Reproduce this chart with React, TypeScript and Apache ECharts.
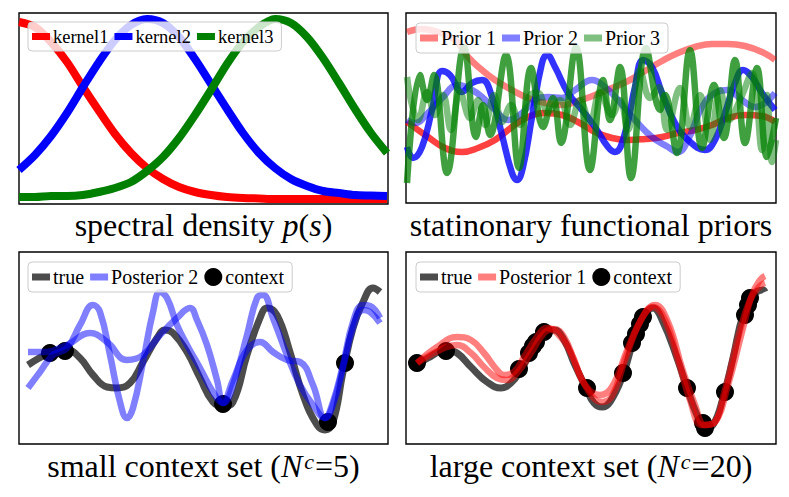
import { useEffect, useRef } from 'react';
import * as echarts from 'echarts';

// ---------- Panel 1: spectral densities (frequency vs density, arbitrary units) ----------
const kX = [0, 16, 32, 48, 64, 80, 96, 112, 128, 144, 160, 176, 192, 208, 224, 240, 256, 272, 288, 304, 320, 336, 352, 368];
const k1Y = [182, 177, 162, 142, 117, 93, 70, 51, 36, 25, 17, 12, 9, 7, 6, 5.5, 5, 5, 5, 5, 5, 5, 5, 5];
const k2Y = [34, 49, 68, 91, 117, 142, 164, 179, 185, 181, 167, 145, 120, 95, 71, 51, 36, 25, 18, 13, 11, 9, 8.5, 8];
const k3Y = [7, 7, 8, 8, 9, 12, 16, 22, 33, 47, 66, 89, 114, 140, 162, 177, 185, 181, 167, 146, 121, 95, 71, 51];

// ---------- Panel 2: prior samples ----------
const p1aX = [1, 16, 32, 49, 62, 76, 89, 106, 122, 139, 156, 172, 189, 206, 222, 239, 256, 272, 289, 306, 322, 339, 356, 369];
const p1aY = [171, 174, 171, 163, 146, 133, 123, 113, 105, 100, 98, 102, 108, 115, 122, 132, 142, 150, 156, 159, 159, 157, 151, 143];
const p1bX = [1, 22, 39, 56, 72, 89, 106, 122, 139, 156, 172, 189, 206, 222, 239, 256, 272, 289, 306, 322, 339, 356, 369];
const p1bY = [81, 66, 55, 51, 55, 63, 76, 86, 90, 88, 81, 71, 65, 63, 64, 66, 70, 73, 78, 85, 88, 87, 81];
const p2aX = [1, 9, 22, 36, 52, 66, 76, 89, 102, 116, 129, 142, 156, 169, 186, 199, 212, 229, 246, 262, 272, 282, 296, 309, 322, 336, 349, 359, 369];
const p2aY = [83, 80, 90, 105, 118, 113, 106, 93, 83, 90, 103, 106, 105, 113, 123, 116, 103, 83, 66, 56, 51, 63, 96, 110, 113, 103, 96, 100, 110];
const p2bX = [1, 7, 16, 26, 36, 44, 56, 66, 76, 86, 96, 106, 111, 117, 126, 136, 141, 149, 162, 176, 189, 202, 209, 219, 229, 237, 246, 256, 269, 282, 299, 309, 319, 329, 337, 346, 356, 369];
const p2bY = [56, 45, 56, 93, 132, 128, 111, 120, 123, 106, 68, 30, 23, 36, 86, 140, 148, 136, 110, 93, 76, 56, 51, 70, 116, 143, 136, 110, 80, 63, 53, 63, 90, 120, 133, 126, 110, 93];
const p3aX = [1, 6, 12, 21, 29, 37, 45, 54, 64, 72, 79, 88, 96, 105, 114, 124, 132, 142, 154, 164, 174, 184, 194, 206, 214, 222, 234, 244, 253, 261, 274, 284, 294, 304, 314, 323, 334, 346, 356, 361, 366, 370];
const p3aY = [126, 98, 83, 111, 88, 108, 73, 111, 85, 103, 78, 108, 81, 98, 78, 108, 110, 91, 103, 78, 103, 81, 111, 88, 103, 73, 133, 105, 116, 73, 115, 76, 108, 63, 113, 83, 103, 130, 53, 108, 41, 63];
const p3bX = [1, 14, 21, 28, 41, 58, 70, 77, 84, 100, 113, 125, 137, 147, 155, 170, 184, 197, 204, 214, 225, 240, 254, 259, 271, 284, 296, 308, 318, 329, 339, 351, 361, 370];
const p3bY = [20, 128, 103, 128, 30, 156, 66, 98, 68, 148, 35, 135, 76, 105, 60, 156, 33, 123, 83, 136, 25, 155, 93, 108, 50, 153, 55, 118, 65, 143, 60, 135, 46, 85];

// ---------- Panel 3: small context set ----------
const t3X = [9, 31, 48, 61, 74, 88, 98, 111, 124, 138, 146, 154, 168, 181, 194, 204, 214, 228, 241, 248, 258, 271, 284, 298, 306, 314, 324, 334, 344, 354, 361];
const t3Y = [79, 91, 94, 86, 69, 57, 56, 61, 82, 106, 114, 111, 92, 66, 42, 38, 42, 89, 126, 136, 129, 92, 49, 19, 14, 22, 72, 116, 142, 156, 152];
const q2aX = [9, 21, 34, 48, 61, 74, 81, 91, 101, 108, 114, 124, 134, 141, 148, 158, 168, 181, 194, 204, 214, 228, 238, 244, 254, 268, 281, 294, 306, 314, 324, 334, 344, 351, 361];
const q2aY = [56, 72, 89, 96, 119, 139, 132, 89, 42, 26, 36, 82, 132, 152, 146, 119, 99, 76, 52, 41, 59, 109, 146, 149, 126, 89, 59, 39, 26, 39, 76, 116, 134, 132, 121];
const q2bX = [9, 24, 48, 71, 88, 108, 124, 141, 158, 171, 178, 188, 198, 204, 214, 228, 241, 254, 268, 281, 294, 306, 314, 324, 334, 344, 351, 361];
const q2bY = [92, 92, 99, 111, 102, 84, 89, 109, 126, 136, 124, 99, 64, 41, 64, 94, 102, 92, 84, 82, 59, 26, 42, 79, 122, 139, 138, 126];
const c3X = [31, 46, 204, 309, 326];
const c3Y = [91, 93, 40, 22, 81];

// ---------- Panel 4: large context set ----------
const t4X = [11, 22, 40, 51, 65, 81, 95, 105, 115, 125, 138, 148, 158, 168, 180, 188, 196, 204, 217, 227, 237, 247, 257, 271, 281, 291, 299, 307, 317, 327, 337, 347, 357, 359];
const t4Y = [79, 86, 94, 91, 77, 62, 56, 61, 74, 92, 112, 114, 104, 81, 56, 41, 37, 42, 69, 102, 126, 136, 122, 86, 56, 29, 16, 19, 46, 86, 129, 149, 154, 152];
const q1aX = [11, 31, 51, 65, 78, 91, 98, 108, 118, 131, 141, 151, 165, 178, 194, 206, 222, 236, 249, 262, 276, 289, 299, 309, 322, 336, 346, 354, 359];
const q1aY = [81, 97, 107, 104, 91, 74, 69, 72, 87, 107, 116, 111, 91, 61, 49, 57, 96, 126, 139, 122, 76, 39, 19, 22, 59, 112, 149, 164, 168];
const q1bX = [11, 38, 51, 65, 78, 91, 101, 111, 125, 138, 148, 158, 168, 180, 196, 206, 219, 234, 247, 259, 272, 284, 296, 306, 319, 332, 344, 354, 359];
const q1bY = [81, 96, 99, 91, 77, 66, 64, 71, 91, 111, 115, 107, 84, 57, 42, 48, 84, 122, 137, 124, 84, 44, 19, 20, 54, 106, 144, 158, 161];
const c4X = [11, 40, 113, 123, 127, 130, 138, 181, 217, 226, 230, 234, 237, 281, 297, 299, 319, 339, 342, 344];
const c4Y = [81, 93, 75, 91, 98, 102, 112, 56, 71, 101, 110, 120, 127, 56, 21, 16, 52, 129, 139, 146];

// ---------- texts ----------
const titles = [
  'spectral density {i|p}({i|s})',
  'statinonary functional priors',
  'small context set ({i|N}{sup|c}=5)',
  'large context set ({i|N}{sup|c}=20)',
];
const legend1 = ['kernel1', 'kernel2', 'kernel3'];
const legend2 = ['Prior 1', 'Prior 2', 'Prior 3'];
const legend3 = ['true', 'Posterior 2', 'context'];
const legend4 = ['true', 'Posterior 1', 'context'];

// ---------- layout ----------
const panels = [
  { left: 19, top: 13, width: 369, height: 191 },
  { left: 406, top: 13, width: 370, height: 190 },
  { left: 19, top: 252, width: 369, height: 192 },
  { left: 406, top: 252, width: 370, height: 192 },
];
const titleY = [225, 225, 466, 466];
const legendPos = [
  { left: 28, top: 22 },
  { left: 416, top: 23 },
  { left: 28, top: 262 },
  { left: 416, top: 262 },
];
const legendFont = [18.5, 20, 20, 20];

const FONT = 'Liberation Serif';
const TITLE_SIZE = 32;
const RED = '#ff0000';
const BLUE = '#0000ff';
const GREEN = '#008000';
const rgba = (hex: string, a: number) => {
  const n = parseInt(hex.slice(1), 16);
  return `rgba(${(n >> 16) & 255},${(n >> 8) & 255},${n & 255},${a})`;
};

const zip = (xs: number[], ys: number[]) => xs.map((x, i) => [x, ys[i]]);

const line = (name: string, xs: number[], ys: number[], color: string, width: number, gi: number, smooth = 0.45) => ({
  type: 'line',
  name,
  xAxisIndex: gi,
  yAxisIndex: gi,
  data: zip(xs, ys),
  smooth,
  symbol: 'none',
  showSymbol: false,
  silent: true,
  lineStyle: { color, width, cap: 'butt', join: 'round' },
  itemStyle: { color },
});

const dots = (name: string, xs: number[], ys: number[], gi: number) => ({
  type: 'scatter',
  name,
  xAxisIndex: gi,
  yAxisIndex: gi,
  data: zip(xs, ys),
  symbol: 'circle',
  symbolSize: 18,
  silent: true,
  itemStyle: { color: '#000', opacity: 1 },
});

const LINE_ICON = 'path://M0,0L0.01,0M0,5.5L18,5.5L18,12.5L0,12.5ZM18,18L17.99,18';

const makeLegend = (idx: number, names: string[], colors: string[]) => ({
  ...legendPos[idx],
  orient: 'horizontal',
  padding: [5, 8, 5, 4],
  itemGap: 6,
  itemWidth: 18,
  itemHeight: 18,
  selectedMode: false,
  backgroundColor: 'rgba(255,255,255,0.8)',
  borderColor: '#cccccc',
  borderWidth: 1,
  borderRadius: 4,
  itemStyle: { borderWidth: 0 },
  textStyle: { fontFamily: FONT, fontSize: legendFont[idx], color: '#000', padding: [0, 0, 0, -2] },
  data: names.map((n, i) => ({
    name: n,
    icon: n === 'context' ? 'circle' : LINE_ICON,
    itemStyle: { color: colors[i], borderWidth: 0 },
  })),
});

const richStyles = {
  i: { fontFamily: FONT, fontSize: TITLE_SIZE, fontStyle: 'italic', fill: '#000' },
  sup: {
    fontFamily: FONT,
    fontSize: 22,
    fontStyle: 'italic',
    fill: '#000',
    lineHeight: 15,
    verticalAlign: 'top',
    padding: [0, 1, 0, 2],
  },
};

const option = {
  animation: false,
  backgroundColor: '#ffffff',
  grid: panels.map((p) => ({ ...p, show: true, borderColor: '#000', borderWidth: 1.4, backgroundColor: 'transparent' })),
  xAxis: panels.map((p, i) => ({ type: 'value', gridIndex: i, min: 0, max: p.width, show: false })),
  yAxis: panels.map((p, i) => ({ type: 'value', gridIndex: i, min: 0, max: p.height, show: false })),
  legend: [
    makeLegend(0, legend1, [RED, BLUE, GREEN]),
    makeLegend(1, legend2, [rgba(RED, 0.5), rgba(BLUE, 0.5), rgba(GREEN, 0.5)]),
    makeLegend(2, legend3, ['rgba(0,0,0,0.7)', rgba(BLUE, 0.5), '#000']),
    makeLegend(3, legend4, ['rgba(0,0,0,0.7)', rgba(RED, 0.5), '#000']),
  ],
  series: [
    line('kernel1', kX, k1Y, RED, 8, 0, 0.3),
    line('kernel2', kX, k2Y, BLUE, 8, 0, 0.3),
    line('kernel3', kX, k3Y, GREEN, 8, 0, 0.3),

    line('Prior 1', p1aX, p1aY, rgba(RED, 0.5), 6.5, 1),
    line('Prior 1 (sample 2)', p1bX, p1bY, rgba(RED, 0.75), 6.5, 1),
    line('Prior 2', p2aX, p2aY, rgba(BLUE, 0.5), 6.5, 1),
    line('Prior 2 (sample 2)', p2bX, p2bY, rgba(BLUE, 0.8), 6.5, 1),
    line('Prior 3', p3aX, p3aY, rgba(GREEN, 0.5), 6.5, 1, 0.4),
    line('Prior 3 (sample 2)', p3bX, p3bY, rgba(GREEN, 0.75), 6.5, 1, 0.4),

    line('true', t3X, t3Y, 'rgba(0,0,0,0.7)', 7, 2),
    line('Posterior 2', q2aX, q2aY, rgba(BLUE, 0.5), 6.5, 2),
    line('Posterior 2 (sample 2)', q2bX, q2bY, rgba(BLUE, 0.5), 6.5, 2),
    dots('context', c3X, c3Y, 2),

    line('true', t4X, t4Y, 'rgba(0,0,0,0.7)', 7, 3),
    line('Posterior 1', q1aX, q1aY, rgba(RED, 0.5), 6.5, 3),
    line('Posterior 1 (sample 2)', q1bX, q1bY, rgba(RED, 0.5), 6.5, 3),
    dots('context', c4X, c4Y, 3),
  ],
  graphic: titles.map((t, i) => ({
    type: 'text',
    x: panels[i].left + panels[i].width / 2,
    y: titleY[i],
    silent: true,
    style: {
      text: t,
      fontFamily: FONT,
      fontSize: TITLE_SIZE,
      fill: '#000',
      align: 'center',
      verticalAlign: 'middle',
      rich: richStyles,
    },
  })),
};

export default function App() {
  const ref = useRef<HTMLDivElement>(null);
  useEffect(() => {
    if (!ref.current) return;
    const chart = echarts.init(ref.current, null, { renderer: 'svg', width: 789, height: 497 });
    chart.setOption(option as any);
    return () => chart.dispose();
  }, []);
  return (
    <div
      ref={ref}
      style={{ position: 'absolute', left: 0, top: 0, width: 789, height: 497, background: '#fff' }}
    />
  );
}
